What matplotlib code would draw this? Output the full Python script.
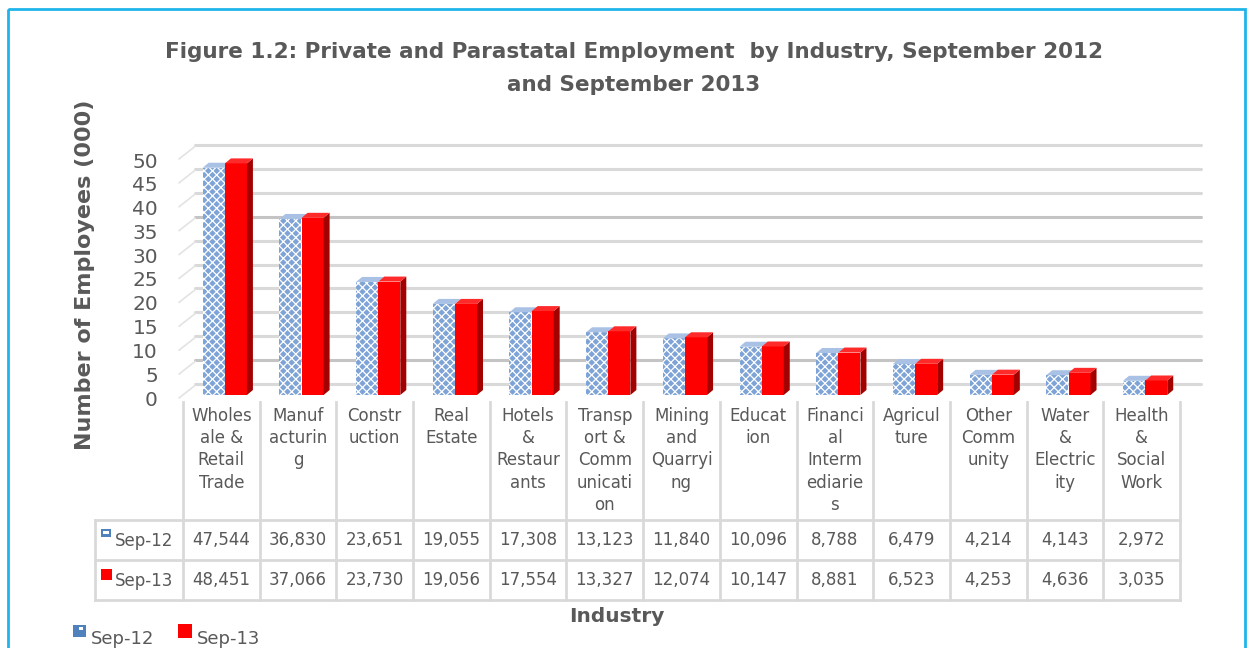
import matplotlib
matplotlib.use("Agg")
import matplotlib.pyplot as plt
from matplotlib.patches import Polygon, Rectangle
import numpy as np

plt.rcParams['font.family'] = ['DejaVu Sans']
plt.rcParams['hatch.linewidth'] = 0.9

industries = ["Wholes\nale &\nRetail\nTrade", "Manuf\nacturin\ng", "Constr\nuction",
              "Real\nEstate", "Hotels\n&\nRestaur\nants", "Transp\nort &\nComm\nunicati\non",
              "Mining\nand\nQuarryi\nng", "Educat\nion", "Financi\nal\nInterm\nediarie\ns",
              "Agricul\nture", "Other\nComm\nunity", "Water\n&\nElectric\nity",
              "Health\n&\nSocial\nWork"]
sep12 = [47544, 36830, 23651, 19055, 17308, 13123, 11840, 10096, 8788, 6479, 4214, 4143, 2972]
sep13 = [48451, 37066, 23730, 19056, 17554, 13327, 12074, 10147, 8881, 6523, 4253, 4636, 3035]
series_names = ["Sep-12", "Sep-13"]
yticks = [0, 5, 10, 15, 20, 25, 30, 35, 40, 45, 50]

W, H = 1255, 648
TXT = '#595959'
GRID = '#d9d9d9'
BLUE = '#7ea3d6'
RED = '#ff0000'

fig = plt.figure(figsize=(W / 100, H / 100), dpi=100)

# pixel helpers
def fx(px):
    return px / W

def fy(py):
    return 1 - py / H

x0, x1 = 183, 1180          # category axis extent (px)
lab_zero, lab_fifty = 400, 162  # tick label positions (px)
bar_zero = 395              # bar baseline (px)
ppu = 4.78
top_px = 130
ytop = (bar_zero - top_px) / ppu

ax = fig.add_axes([fx(x0), fy(bar_zero), (x1 - x0) / W, (bar_zero - top_px) / H])
n = len(industries)
ax.set_xlim(-0.5, n - 0.5)
ax.set_ylim(0, ytop)
ax.axis('off')

cat_px = (x1 - x0) / n
# back wall offset
wdx = 12 / cat_px
wdy = 11 / ppu
for v in yticks:
    col = '#c4c4c4' if v in (5, 35) else GRID
    ax.plot([-0.5 + wdx, n - 0.5 + wdx + 0.12], [v + wdy, v + wdy], color=col, lw=2.2,
            solid_capstyle='round', zorder=1, clip_on=False)
    ax.plot([-0.5 - 0.05, -0.5 + wdx], [v - 0.6, v + wdy - 0.3], color='#e3e3e3', lw=1.2,
            zorder=1, clip_on=False)

# bars
bw = 22 / cat_px
off12 = -0.10
off13 = 0.19
sdx = 6 / cat_px
sdy = 5 / ppu
a12 = np.array(sep12) / 1000.0
a13 = np.array(sep13) / 1000.0
xs = np.arange(n)

ax.bar(xs + off12, a12, width=bw, color=BLUE, edgecolor='white', linewidth=0,
       hatch='xxxx', zorder=3)
for i, v in enumerate(a12):
    l = i + off12 - bw / 2
    r = i + off12 + bw / 2
    ax.add_patch(Polygon([[l, v], [r, v], [r + sdx, v + sdy], [l + sdx, v + sdy]],
                         closed=True, facecolor='#a9c1e4', edgecolor='none', zorder=3))

ax.bar(xs + off13, a13, width=bw, color=RED, edgecolor='none', zorder=4)
for i, v in enumerate(a13):
    l = i + off13 - bw / 2
    r = i + off13 + bw / 2
    ax.add_patch(Polygon([[r, 0], [r + sdx, sdy], [r + sdx, v + sdy], [r, v]],
                         closed=True, facecolor='#a30000', edgecolor='none', zorder=4))
    ax.add_patch(Polygon([[l, v], [r, v], [r + sdx, v + sdy], [l + sdx, v + sdy]],
                         closed=True, facecolor='#ff2a2a', edgecolor='none', zorder=4))

# overlay axes in pixel coordinates for text, table, border
ov2 = fig.add_axes([0, 0, 1, 1], zorder=5)
ov2.set_xlim(0, W)
ov2.set_ylim(H, 0)
ov2.axis('off')
ov2.patch.set_alpha(0)

# chart border
ov2.add_patch(Rectangle((8, 9), 1237, 700, fill=False, edgecolor='#1fb4ea', lw=2))

# title
ov2.text(634, 52, "Figure 1.2: Private and Parastatal Employment  by Industry, September 2012",
         ha='center', va='center', fontsize=15.5, fontweight='bold', color=TXT)
ov2.text(634, 85, "and September 2013", ha='center', va='center', fontsize=15.5,
         fontweight='bold', color=TXT)

# y tick labels
lab_ppu = (lab_zero - lab_fifty) / 50.0
for v in yticks:
    ov2.text(158, lab_zero - v * lab_ppu, str(v), ha='right', va='center', fontsize=14.5,
             color=TXT)

ov2.text(85, 275, "Number of Employees (000)", rotation=90, ha='center', va='center',
         fontsize=16, fontweight='bold', color=TXT)

# table
bounds = [x0 + cat_px * k for k in range(n + 1)]
for b in bounds:
    ov2.plot([b, b], [402, 600], color=GRID, lw=2, zorder=1)
ov2.plot([95, 95], [520, 600], color=GRID, lw=2)
for yy in (520, 560, 600):
    ov2.plot([95, x1], [yy, yy], color=GRID, lw=2)

for i, lab in enumerate(industries):
    cx = (bounds[i] + bounds[i + 1]) / 2
    ov2.text(cx, 407, lab, ha='center', va='top', fontsize=12, color=TXT, linespacing=1.3)
    ov2.text(cx, 540, f"{sep12[i]:,}", ha='center', va='center', fontsize=12, color=TXT)
    ov2.text(cx, 580, f"{sep13[i]:,}", ha='center', va='center', fontsize=12, color=TXT)

ov2.add_patch(Rectangle((101, 529), 10, 8, facecolor='#4f81bd', edgecolor='none'))
ov2.add_patch(Rectangle((103, 531), 6, 3, facecolor='white', edgecolor='none'))
ov2.add_patch(Rectangle((101, 569), 11, 11, facecolor=RED, edgecolor='none'))
ov2.text(115, 541, series_names[0], ha='left', va='center', fontsize=12, color=TXT)
ov2.text(115, 581, series_names[1], ha='left', va='center', fontsize=12, color=TXT)

ov2.text(617, 617, "Industry", ha='center', va='center', fontsize=14.5, fontweight='bold',
         color=TXT)

# legend
ov2.add_patch(Rectangle((73, 625), 13, 12, facecolor='#4f81bd', edgecolor='none'))
ov2.add_patch(Rectangle((79, 627), 4, 3, facecolor='white', edgecolor='none'))
ov2.text(91, 639, series_names[0], ha='left', va='center', fontsize=13, color=TXT)
ov2.add_patch(Rectangle((178, 624), 14, 14, facecolor=RED, edgecolor='none'))
ov2.text(197, 639, series_names[1], ha='left', va='center', fontsize=13, color=TXT)

fig.savefig("out.png", dpi=100)
